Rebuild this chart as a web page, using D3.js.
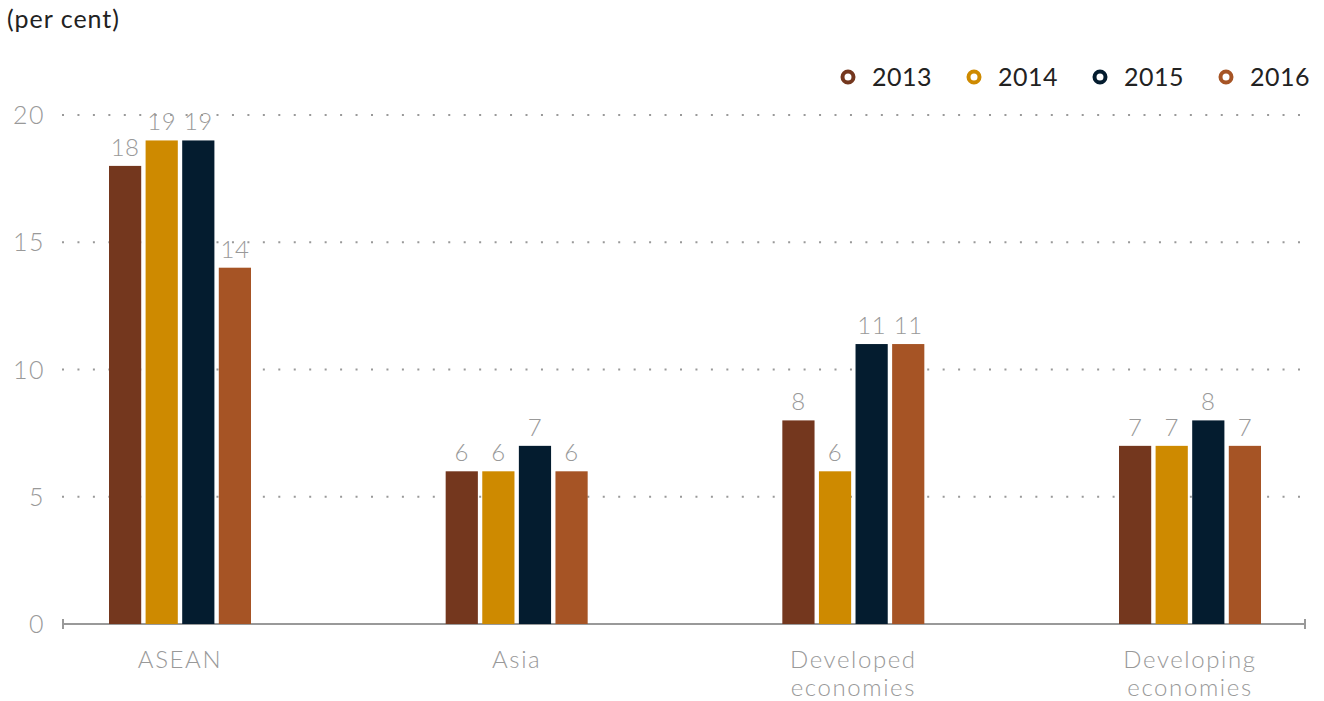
<!DOCTYPE html>
<html><head><meta charset="utf-8">
<script src="https://cdn.jsdelivr.net/npm/d3@7/dist/d3.min.js"></script>
<style>
body{margin:0;background:#fff;}
svg text{font-family:Lato,"Open Sans",sans-serif;}
</style></head>
<body><svg id="chart" width="1324" height="701"></svg>
<script>
const categories = [["ASEAN"], ["Asia"], ["Developed", "economies"], ["Developing", "economies"]];
const years = ["2013", "2014", "2015", "2016"];
const v2013 = [18, 6, 8, 7];
const v2014 = [19, 6, 6, 7];
const v2015 = [19, 7, 11, 8];
const v2016 = [14, 6, 11, 7];
const yTicks = [0, 5, 10, 15, 20];
const colors = ["#74371E", "#CE8A00", "#041C2F", "#A65425"];
const series = [v2013, v2014, v2015, v2016];

const svg = d3.select("#chart");
const y = d3.scaleLinear().domain([0, 20]).range([624, 115]);
const x0 = d3.scalePoint().domain(d3.range(categories.length)).range([180, 1190]);
const x1 = d3.scaleBand().domain(years).range([-71, 71]).paddingInner(0.12);

// gridlines
svg.append("g").selectAll("line").data(yTicks.filter(t => t > 0)).join("line")
  .attr("x1", 62).attr("x2", 1300).attr("y1", d => y(d)).attr("y2", d => y(d))
  .attr("stroke", "#999").attr("stroke-width", 2).attr("stroke-dasharray", "2,13.45");

// y tick labels
svg.append("g").selectAll("text").data(yTicks).join("text")
  .attr("x", 45).attr("y", d => y(d) + 9).attr("text-anchor", "end")
  .attr("font-size", 25).attr("font-weight", 300).attr("letter-spacing", 1.5)
  .attr("fill", "#999").text(d => d);

// baseline axis
const ax = svg.append("g").attr("stroke", "#999").attr("stroke-width", 2);
ax.append("line").attr("x1", 63).attr("x2", 1305).attr("y1", y(0)).attr("y2", y(0));
ax.append("line").attr("x1", 63).attr("x2", 63).attr("y1", y(0) - 5).attr("y2", y(0) + 5);
ax.append("line").attr("x1", 1305).attr("x2", 1305).attr("y1", y(0) - 5).attr("y2", y(0) + 5);

// bars
const groups = svg.append("g").selectAll("g").data(categories).join("g")
  .attr("transform", (d, i) => `translate(${x0(i)},0)`);
groups.each(function(c, i) {
  const g = d3.select(this);
  years.forEach((yr, s) => {
    const v = series[s][i];
    g.append("rect").attr("x", x1(yr)).attr("width", x1.bandwidth())
      .attr("y", y(v)).attr("height", y(0) - y(v)).attr("fill", colors[s]);
    g.append("text").attr("x", x1(yr) + x1.bandwidth() / 2).attr("y", y(v) - 10)
      .attr("text-anchor", "middle").attr("font-size", 24).attr("font-weight", 300)
      .attr("letter-spacing", 0.5).attr("fill", "#999").text(v);
  });
  c.forEach((line, k) => g.append("text").attr("text-anchor", "middle")
    .attr("font-size", 24).attr("font-weight", 300).attr("letter-spacing", 1.6)
    .attr("fill", "#999").attr("x", 0).attr("y", 668 + k * 28).text(line));
});

// title
svg.append("text").attr("x", 7).attr("y", 28).attr("font-size", 25)
  .attr("letter-spacing", 1).attr("fill", "#222").text("(per cent)");

// legend
const lg = svg.append("g").selectAll("g").data(years).join("g")
  .attr("transform", (d, i) => `translate(${848 + i * 126},77)`);
lg.append("circle").attr("r", 5.5).attr("fill", "none")
  .attr("stroke", (d, i) => colors[i]).attr("stroke-width", 4);
lg.append("text").attr("x", 24).attr("y", 9).attr("font-size", 25)
  .attr("letter-spacing", 0.5).attr("fill", "#222").text(d => d);
</script></body></html>
